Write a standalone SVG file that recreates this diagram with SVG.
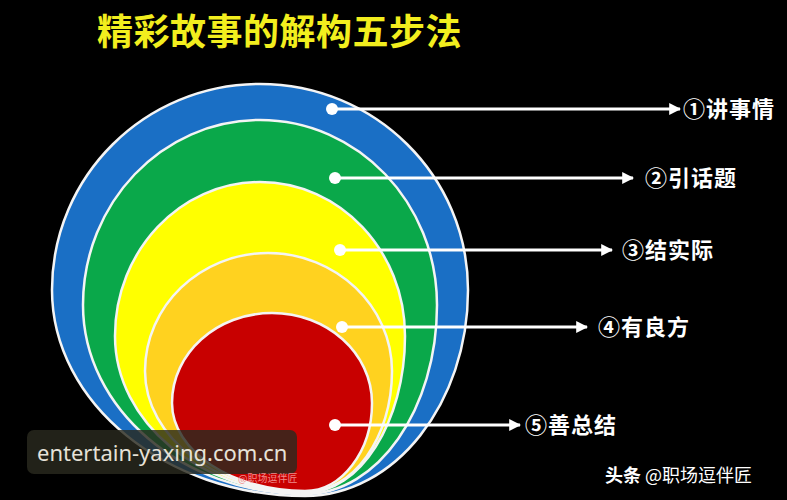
<svg xmlns="http://www.w3.org/2000/svg" width="787" height="500" viewBox="0 0 787 500">
<defs>
<style>
.ring{stroke:#f4f4f4;stroke-width:2.5}
.con{stroke:#fff;stroke-width:3;fill:none}
.dot{fill:#fff}
.lbl{fill:#fff;font-family:"Noto Sans CJK SC","Noto Sans CJK JP",serif;font-size:22px;font-weight:bold;letter-spacing:1px}
</style>
<marker id="ah" viewBox="0 0 10 10" refX="9" refY="5" markerWidth="4" markerHeight="4" orient="auto" markerUnits="strokeWidth">
<path d="M0,0 L10,5 L0,10 z" fill="#fff"/>
</marker>
</defs>
<rect width="787" height="500" fill="#000"/>
<text x="97" y="45" fill="#f2ee1e" font-family="Noto Sans CJK SC, sans-serif" font-size="36" font-weight="bold" letter-spacing="0.5">精彩故事的解构五步法</text>
<g id="blue"><path class="ring" fill="#1a6fc5" d="M305,496 C395,496 468,403 468,290 C468,176 375,84 260,84 C145,84 52,176 52,290 C52,403 166,496 305,496Z"/></g>
<g id="green"><path class="ring" fill="#0aa84a" d="M305,494 C378,494 437,409 437,305 C437,203 358,120 260,120 C162,120 83,203 83,305 C83,409 183,494 305,494Z"/></g>
<g id="yellow"><path class="ring" fill="#ffff00" d="M305,493 C360,493 405,422 405,336 C405,251 340,182 260,182 C180,182 115,251 115,336 C115,422 200,493 305,493Z"/></g>
<g id="orange"><path class="ring" fill="#ffd21f" d="M305,492 C353,492 392,438 392,371 C392,306 336,253 268,253 C200,253 145,306 145,371 C145,438 217,492 305,492Z"/></g>
<g id="red"><path class="ring" fill="#c80000" d="M305,491 C342,491 372,451 372,403 C372,353 327,313 272,313 C217,313 172,353 172,403 C172,451 232,491 305,491Z"/></g>
<g id="connectors">
<line class="con" x1="332" y1="109" x2="680" y2="109" marker-end="url(#ah)"/>
<line class="con" x1="335" y1="178" x2="633" y2="178" marker-end="url(#ah)"/>
<line class="con" x1="340" y1="250" x2="612" y2="250" marker-end="url(#ah)"/>
<line class="con" x1="342" y1="327" x2="587" y2="327" marker-end="url(#ah)"/>
<line class="con" x1="335" y1="425" x2="520" y2="425" marker-end="url(#ah)"/>
<circle class="dot" cx="332" cy="109" r="6"/>
<circle class="dot" cx="335" cy="178" r="6"/>
<circle class="dot" cx="340" cy="250" r="6"/>
<circle class="dot" cx="342" cy="327" r="6"/>
<circle class="dot" cx="335" cy="425" r="6"/>
</g>
<g id="label1"><text class="lbl" x="683" y="117">①讲事情</text></g>
<g id="label2"><text class="lbl" x="645" y="186">②引话题</text></g>
<g id="label3"><text class="lbl" x="622" y="258">③结实际</text></g>
<g id="label4"><text class="lbl" x="598" y="335">④有良方</text></g>
<g id="label5"><text class="lbl" x="525" y="433">⑤善总结</text></g>
<rect x="27" y="430" width="270" height="44" rx="7" fill="#2a2a1e" fill-opacity="0.82"/>
<text x="37" y="461" fill="#e6e2d8" font-family="Noto Sans, sans-serif" font-size="22">entertain-yaxing.com.cn</text>
<text x="238" y="482" fill="#f08a8a" font-family="Noto Sans CJK SC, sans-serif" font-size="10">@职场逗伴匠</text>
<text x="605" y="482" fill="#fff" font-family="Noto Sans CJK SC, sans-serif" font-size="18"><tspan font-weight="bold">头条</tspan> @职场逗伴匠</text>
</svg>
